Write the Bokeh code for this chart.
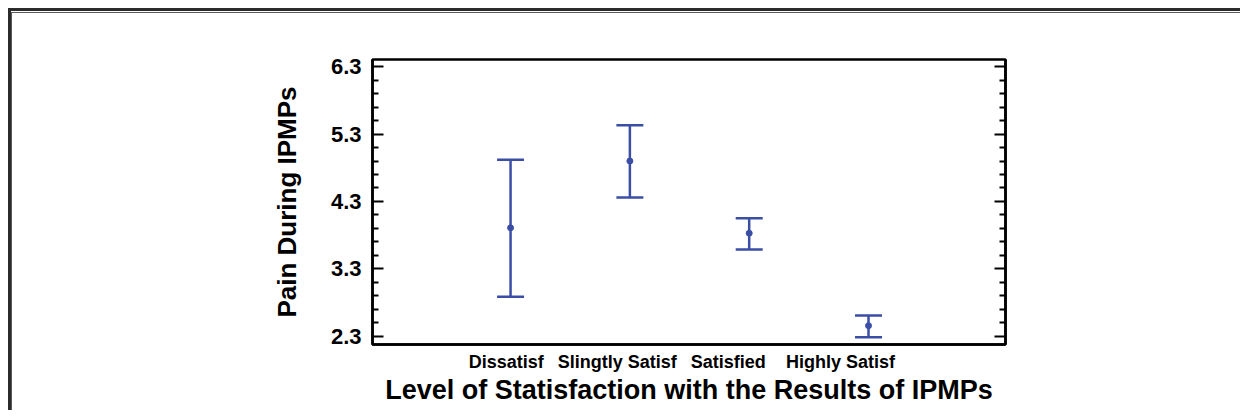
from bokeh.plotting import figure
from bokeh.models import (Range1d, FixedTicker, LinearAxis, Whisker, TeeHead,
                          ColumnDataSource, CustomJSTickFormatter)
from bokeh.embed import file_html
from bokeh.resources import INLINE

# ---- data ----
categories = ["Dissatisf", "Slingtly Satisf", "Satisfied", "Highly Satisf"]
means = [3.91, 4.90, 3.83, 2.46]
upper = [4.92, 5.43, 4.05, 2.61]
lower = [2.89, 4.36, 3.59, 2.29]
y_ticks = [2.3, 3.3, 4.3, 5.3, 6.3]
x_title = "Level of Statisfaction with the Results of IPMPs"
y_title = "Pain During IPMPs"

# ---- layout constants ----
label_x = [0.964, 1.894, 2.825, 3.766]   # where the category names sit
xpos = list(range(1, len(categories) + 1))
BLUE = "#3b4ea6"
FONT = "Liberation Sans"

W, H = 1240, 410
FL, FR, FT, FB = 372, 1005, 59, 344  # frame in canvas px

p = figure(width=W, height=H, output_backend="svg", toolbar_location=None,
           x_range=Range1d(-0.157, 5.148), y_range=Range1d(2.181, 6.404),
           min_border_left=FL, min_border_right=W - FR,
           min_border_top=FT, min_border_bottom=H - FB)
p.background_fill_color = "white"
p.border_fill_alpha = 0.0
p.grid.visible = False
p.outline_line_color = "black"
p.outline_line_width = 2.5
p.outline_line_alpha = 1.0

# outer double frame (top and left edges visible in the window), drawn as CSS
p.styles = {
    "background-color": "white",
    "background-image": ("linear-gradient(#2b2b2b,#2b2b2b),"
                         "linear-gradient(#5a5a5a,#5a5a5a),"
                         "linear-gradient(#2b2b2b,#2b2b2b),"
                         "linear-gradient(#5a5a5a,#5a5a5a)"),
    "background-position": "8px 8px, 11px 12px, 8px 8px, 11px 12px",
    "background-size": "100% 3px, 100% 1px, 3px 100%, 1px 100%",
    "background-repeat": "no-repeat",
}

minor = [round(a + 0.2 * k, 1) for a in y_ticks[:-1] for k in range(1, 5)]
yticker = FixedTicker(ticks=y_ticks, minor_ticks=minor)


def style_y(ax):
    ax.ticker = yticker
    ax.axis_line_width = 2.5
    ax.axis_line_color = "black"
    ax.major_tick_in = 11
    ax.major_tick_out = 0
    ax.minor_tick_in = 6
    ax.minor_tick_out = 0
    ax.major_tick_line_width = 2
    ax.minor_tick_line_width = 2
    ax.major_tick_line_color = "black"
    ax.minor_tick_line_color = "black"


yax = p.yaxis[0]
style_y(yax)
yax.major_label_standoff = 11
yax.major_label_text_font = FONT
yax.major_label_text_font_style = "bold"
yax.major_label_text_font_size = "22px"
yax.major_label_text_color = "black"
yax.axis_label = y_title
yax.axis_label_text_font = FONT
yax.axis_label_text_font_style = "bold"
yax.axis_label_text_font_size = "26px"
yax.axis_label_text_color = "black"
yax.axis_label_standoff = 26

rax = LinearAxis()
style_y(rax)
rax.formatter = CustomJSTickFormatter(code="return ''")
p.add_layout(rax, "right")

xax = p.xaxis[0]
xax.ticker = FixedTicker(ticks=label_x, minor_ticks=[])
xax.formatter = CustomJSTickFormatter(args=dict(labels=categories),
                                      code="return labels[index]")
xax.axis_line_width = 2.5
xax.axis_line_color = "black"
xax.major_tick_in = 0
xax.major_tick_out = 0
xax.minor_tick_in = 0
xax.minor_tick_out = 0
xax.major_label_standoff = 7
xax.major_label_text_font = FONT
xax.major_label_text_font_style = "bold"
xax.major_label_text_font_size = "18px"
xax.major_label_text_color = "black"
xax.axis_label = x_title
xax.axis_label_text_font = FONT
xax.axis_label_text_font_style = "bold"
xax.axis_label_text_font_size = "27px"
xax.axis_label_text_color = "black"
xax.axis_label_standoff = 0

src = ColumnDataSource(dict(x=xpos, mean=means, upper=upper, lower=lower))
wh = Whisker(base="x", upper="upper", lower="lower", source=src,
             dimension="height", line_color=BLUE, line_width=2.5,
             upper_head=TeeHead(size=27, line_color=BLUE, line_width=2.5),
             lower_head=TeeHead(size=27, line_color=BLUE, line_width=2.5))
p.add_layout(wh)
p.scatter("x", "mean", source=src, size=6, color=BLUE)

open("out.html", "w").write(file_html(p, INLINE))
